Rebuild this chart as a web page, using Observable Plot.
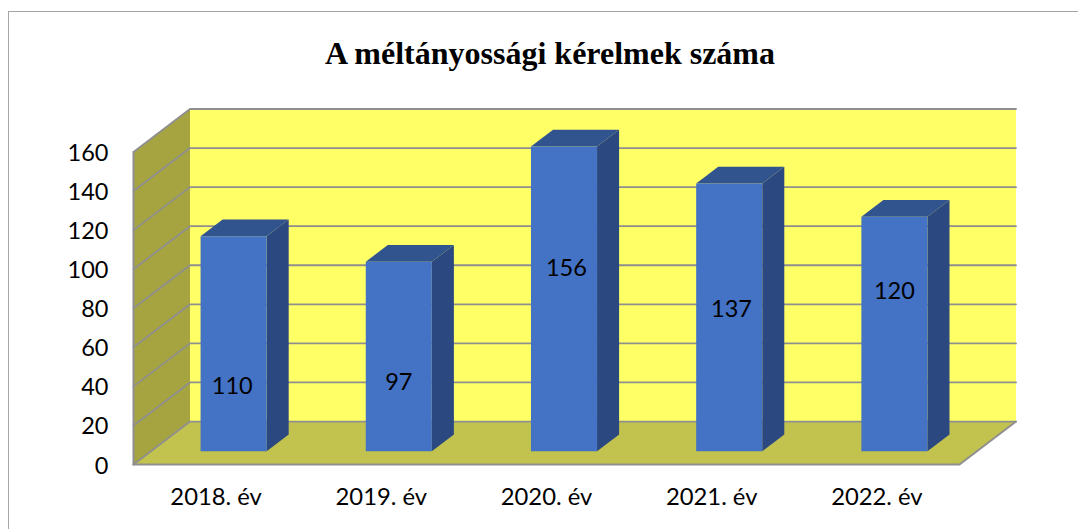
<!DOCTYPE html>
<html lang="hu">
<head>
<meta charset="utf-8">
<script src="https://cdn.jsdelivr.net/npm/d3@7"></script>
<script src="https://cdn.jsdelivr.net/npm/@observablehq/plot@0.6"></script>
<style>
  html, body { margin: 0; padding: 0; background: #fff; width: 1078px; height: 529px; overflow: hidden; }
  #frame { position: absolute; left: 8px; top: 11px; width: 1070px; height: 518px; border-left: 1.5px solid #a6a6a6; border-top: 1.5px solid #a6a6a6; box-sizing: border-box; }
  #title { position: absolute; left: 0; top: 0; width: 1078px; height: 90px; padding-left: 22px; box-sizing: border-box; text-align: center; font: bold 32px/107px "Liberation Serif", serif; color: #000; }
  #chart { position: absolute; left: 0; top: 90px; }
  svg { display: block; }
</style>
</head>
<body>
<div id="frame"></div>
<div id="title">A méltányossági kérelmek száma</div>
<div id="chart"></div>
<script>
const categories = ["2018. év", "2019. év", "2020. év", "2021. év", "2022. év"];
const values = [110, 97, 156, 137, 120];
const labelHeights = [33, 35, 93.5, 72.6, 82];
const labelNudges = [-0.008, 0, 0.014, 0.014, 0];
const valueTicks = [0, 20, 40, 60, 80, 100, 120, 140, 160];

// Oblique projection of the 3D box: depth d (0 = front, 1 = back) shifts x and y in data units.
const depthX = 0.342;
const depthY = 22;
const barDepthFront = 0.31;
const barDepthBack = 0.70;
const barHalfWidth = 0.2;
const P = (x, y, d = 0) => ({x: x + d * depthX, y: y + d * depthY});

const n = categories.length;
const maxTick = valueTicks[valueTicks.length - 1];
const face = (pts, fill) => Plot.line(pts, {x: "x", y: "y", fill, stroke: "none"});
const edge = (pts, w = 1.8) => Plot.line(pts, {x: "x", y: "y", stroke: "#8f8f8f", strokeWidth: w});

const marks = [
  face([P(0, 0, 1), P(n, 0, 1), P(n, maxTick, 1), P(0, maxTick, 1)], "#ffff66"),
  face([P(0, 0, 0), P(0, 0, 1), P(0, maxTick, 1), P(0, maxTick, 0)], "#a6a440"),
  face([P(0, 0, 0), P(n, 0, 0), P(n, 0, 1), P(0, 0, 1)], "#c2c24f")
];

for (const t of valueTicks) {
  marks.push(edge([P(0, t, 0), P(0, t, 1), P(n, t, 1)]));
}
marks.push(edge([P(0, 0, 0), P(0, maxTick, 0)], 2));
marks.push(edge([P(0, 0, 0), P(n, 0, 0), P(n, 0, 1)], 2));

values.forEach((v, i) => {
  const x0 = i + 0.5 - barHalfWidth;
  const x1 = i + 0.5 + barHalfWidth;
  const f = barDepthFront;
  const b = barDepthBack;
  marks.push(face([P(x1, 0, f), P(x1, 0, b), P(x1, v, b), P(x1, v, f)], "#2b4880"));
  marks.push(face([P(x0, v, f), P(x1, v, f), P(x1, v, b), P(x0, v, b)], "#31548f"));
  marks.push(face([P(x0, 0, f), P(x1, 0, f), P(x1, v, f), P(x0, v, f)], "#4472c4"));
});

marks.push(Plot.text(values, {
  x: (v, i) => P(i + 0.5 + labelNudges[i], 0, barDepthFront).x,
  y: (v, i) => P(0, labelHeights[i], barDepthFront).y,
  text: (v) => String(v),
  fill: "#000",
  fontSize: 23.5,
  fontFamily: "Lato"
}));

marks.push(Plot.axisY(valueTicks, {
  anchor: "left", tickSize: 0, tickPadding: 25, label: null, dy: 1.5,
  fontSize: 23.5, fontFamily: "Lato", fill: "#000", color: "#000"
}));
marks.push(Plot.axisX(categories.map((c, i) => i + 0.5), {
  anchor: "bottom", tickSize: 0, tickPadding: 24, label: null,
  tickFormat: (d) => categories[Math.round(d - 0.5)],
  fontSize: 23.8, fontFamily: "Lato", fill: "#000", color: "#000"
}));

const chart = Plot.plot({
  width: 1078,
  height: 439,
  marginLeft: 133,
  marginRight: 62.5,
  marginTop: 18.5,
  marginBottom: 65,
  style: {background: "transparent", overflow: "visible"},
  x: {domain: [0, n + depthX], axis: null},
  y: {domain: [0, maxTick + depthY], axis: null},
  marks
});
document.getElementById("chart").append(chart);
</script>
</body>
</html>
